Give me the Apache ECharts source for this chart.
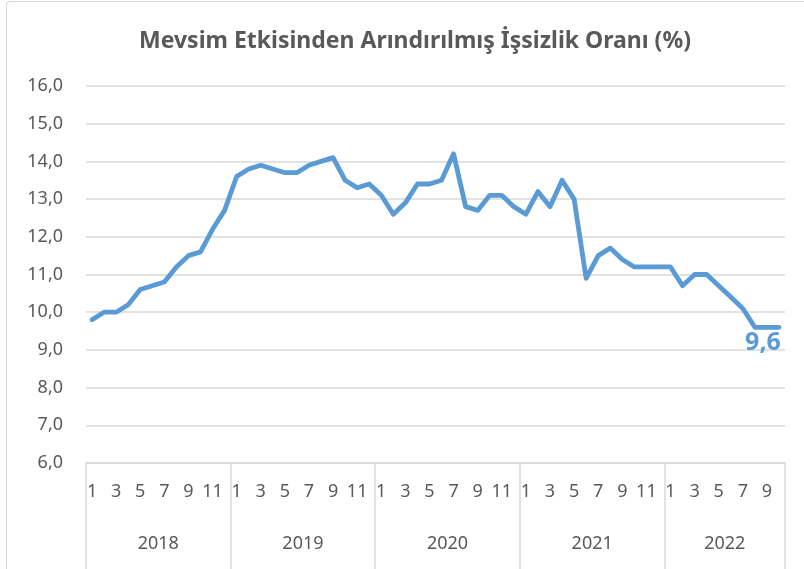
<!DOCTYPE html>
<html>
<head>
<meta charset="utf-8">
<script src="https://cdn.jsdelivr.net/npm/echarts@6/dist/echarts.min.js"></script>
<style>
  html, body { margin: 0; padding: 0; background: #fff; }
  #chart { width: 804px; height: 569px; }
  .frame {
    position: absolute; left: 6px; top: 1px; width: 900px; height: 700px;
    border-left: 1px solid #d9d9d9; border-top: 1px solid #d9d9d9;
    border-radius: 4px; pointer-events: none;
  }
</style>
</head>
<body>
<div id="chart"></div>
<div class="frame"></div>
<script>
// yıllar ve ay sayıları
const years = ['2018', '2019', '2020', '2021', '2022']
const monthsPerYear = [12, 12, 12, 12, 10]

// mevsim etkisinden arındırılmış işsizlik oranı (%), aylık
const rate2018 = [9.8, 10.0, 10.0, 10.2, 10.6, 10.7, 10.8, 11.2, 11.5, 11.6, 12.2, 12.7]
const rate2019 = [13.6, 13.8, 13.9, 13.8, 13.7, 13.7, 13.9, 14.0, 14.1, 13.5, 13.3, 13.4]
const rate2020 = [13.1, 12.6, 12.9, 13.4, 13.4, 13.5, 14.2, 12.8, 12.7, 13.1, 13.1, 12.8]
const rate2021 = [12.6, 13.2, 12.8, 13.5, 13.0, 10.9, 11.5, 11.7, 11.4, 11.2, 11.2, 11.2]
const rate2022 = [11.2, 10.7, 11.0, 11.0, 10.7, 10.4, 10.1, 9.6, 9.6, 9.6]

const values = [].concat(rate2018, rate2019, rate2020, rate2021, rate2022)

// ay kategorileri (1..12) ve yıl sınırları
const months = []
const yearStarts = []
const yearCenters = []
let pos = 0
monthsPerYear.forEach(n => {
  yearStarts.push(pos)
  yearCenters.push(pos + n / 2)
  for (let m = 1; m <= n; m++) months.push(String(m))
  pos += n
})
yearStarts.push(pos)

const gray = '#595959'
const lineGray = '#d9d9d9'
const blue = '#5b9bd5'
const font = 'Noto Sans'

function fmt(v) {
  return v.toFixed(1).replace('.', ',')
}

const myChart = echarts.init(document.getElementById('chart'))
const option = {
  animation: false,
  title: {
    text: 'Mevsim Etkisinden Arındırılmış İşsizlik Oranı (%)',
    left: 134,
    top: 25,
    textStyle: { color: gray, fontSize: 23, fontWeight: 'bold', fontFamily: font }
  },
  grid: { left: 86, right: 19, top: 86, bottom: 106, containLabel: false },
  xAxis: [
    {
      type: 'category',
      data: months,
      boundaryGap: true,
      axisLine: { lineStyle: { color: lineGray, width: 1.5 } },
      axisTick: { show: false },
      axisLabel: {
        interval: 1,
        color: gray,
        fontSize: 18,
        fontFamily: font,
        margin: 20
      }
    },
    {
      type: 'value',
      position: 'bottom',
      min: 0,
      max: values.length,
      axisLine: { show: false },
      splitLine: { show: false },
      axisTick: {
        show: true,
        customValues: yearStarts,
        length: 106,
        lineStyle: { color: lineGray, width: 1.5 }
      },
      axisLabel: {
        customValues: yearCenters,
        formatter: function (v) {
          const i = yearCenters.indexOf(v)
          return i >= 0 ? years[i] : ''
        },
        color: gray,
        fontSize: 18,
        fontFamily: font,
        margin: 72
      }
    }
  ],
  yAxis: {
    type: 'value',
    min: 6,
    max: 16,
    interval: 1,
    axisLine: { show: false },
    axisTick: { show: false },
    splitLine: { lineStyle: { color: lineGray, width: 1.5 } },
    axisLabel: {
      color: gray,
      fontSize: 18,
      fontFamily: font,
      margin: 23,
      formatter: fmt
    }
  },
  series: [
    {
      type: 'line',
      xAxisIndex: 0,
      data: values.map((v, i) => i === values.length - 1
        ? {
            value: v,
            label: {
              show: true,
              position: 'bottom',
              distance: 3,
              offset: [-16, 0],
              color: blue,
              fontSize: 25,
              fontWeight: 'bold',
              fontFamily: font,
              formatter: function (p) {
                return fmt(p.value)
              }
            }
          }
        : v),
      showSymbol: true,
      symbol: 'circle',
      symbolSize: 0,
      label: { show: false },
      lineStyle: { color: blue, width: 4.8, cap: 'round', join: 'round' },
      itemStyle: { color: blue }
    }
  ]
}
myChart.setOption(option)
</script>
</body>
</html>
